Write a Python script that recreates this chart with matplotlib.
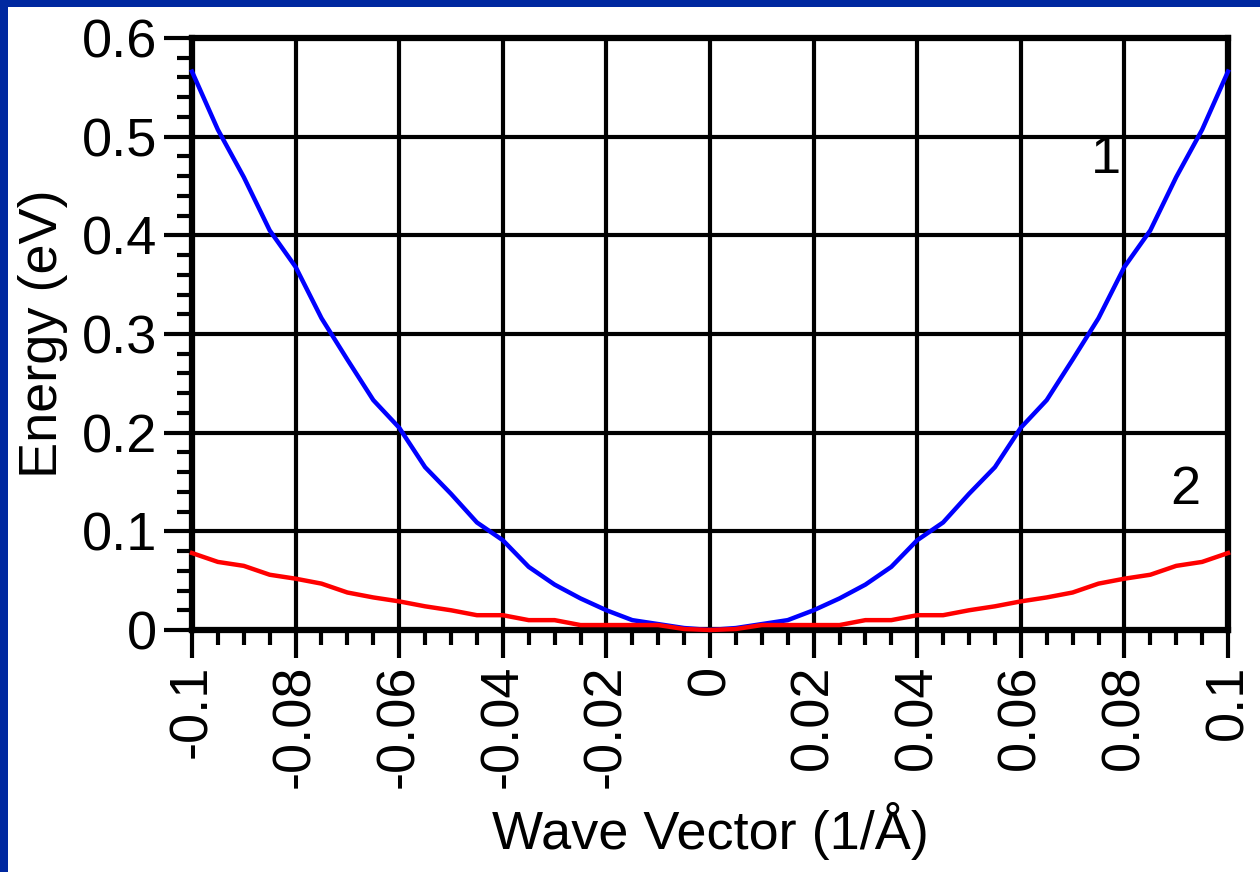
import matplotlib
matplotlib.use("Agg")
import matplotlib.pyplot as plt
from matplotlib.ticker import MultipleLocator
import matplotlib.patches as mpatches

k_left = [-0.1, -0.095, -0.09, -0.085, -0.08, -0.075, -0.07, -0.065, -0.06, -0.055,
          -0.05, -0.045, -0.04, -0.035, -0.03, -0.025, -0.02, -0.015, -0.01, -0.005, 0.0]
band1_left = [0.566, 0.507, 0.459, 0.405, 0.368, 0.316, 0.274, 0.233, 0.205, 0.165,
              0.138, 0.109, 0.091, 0.064, 0.046, 0.032, 0.020, 0.010, 0.006, 0.002, 0.0]
band2_left = [0.078, 0.069, 0.065, 0.056, 0.052, 0.047, 0.038, 0.033, 0.029, 0.024,
              0.020, 0.015, 0.015, 0.010, 0.010, 0.005, 0.005, 0.005, 0.005, 0.001, 0.0]

k = k_left + [-v for v in reversed(k_left[:-1])]
band1 = band1_left + list(reversed(band1_left[:-1]))
band2 = band2_left + list(reversed(band2_left[:-1]))

x_ticks = [-0.1, -0.08, -0.06, -0.04, -0.02, 0, 0.02, 0.04, 0.06, 0.08, 0.1]
x_ticklabels = ["-0.1", "-0.08", "-0.06", "-0.04", "-0.02", "0", "0.02", "0.04", "0.06", "0.08", "0.1"]
y_ticks = [0, 0.1, 0.2, 0.3, 0.4, 0.5, 0.6]
y_ticklabels = ["0", "0.1", "0.2", "0.3", "0.4", "0.5", "0.6"]

plt.rcParams['font.family'] = ['Liberation Sans', 'DejaVu Sans']

fig = plt.figure(figsize=(12.6, 8.72), dpi=100)
fig.patch.set_facecolor('white')
# blue frame on left and top
fig.add_artist(mpatches.Rectangle((0, 0), 8/1260, 1, transform=fig.transFigure,
                                  facecolor='#0028A0', edgecolor='none'))
fig.add_artist(mpatches.Rectangle((0, 1 - 7/872), 1, 7/872, transform=fig.transFigure,
                                  facecolor='#0028A0', edgecolor='none'))

ax = fig.add_axes([192/1260, 1 - 630/872, (1228-192)/1260, (630-38)/872])
ax.plot(k, band1, color='#0000FF', lw=3.2, zorder=3, clip_on=False)
ax.plot(k, band2, color='#FF0000', lw=3.2, zorder=3, clip_on=False)

ax.set_xlim(-0.1, 0.1)
ax.set_ylim(0, 0.6)
ax.set_xticks(x_ticks)
ax.set_xticklabels(x_ticklabels, rotation=90, va='top', ha='center')
ax.set_yticks(y_ticks)
ax.set_yticklabels(y_ticklabels)
ax.xaxis.set_minor_locator(MultipleLocator(0.005))
ax.yaxis.set_minor_locator(MultipleLocator(0.02))

ax.grid(True, which='major', color='black', lw=3)
ax.set_axisbelow(True)
ax.tick_params(which='major', direction='out', length=20, width=3, labelsize=39, pad=5, color='black')
ax.tick_params(which='minor', direction='out', length=11, width=3, color='black')
for s in ax.spines.values():
    s.set_linewidth(4.5)
    s.set_color('black')

ax.set_xlabel('Wave Vector (1/Å)', fontsize=39, labelpad=10)
ax.set_ylabel('Energy (eV)', fontsize=39, labelpad=10)

ax.text(0.0765, 0.477, '1', fontsize=39, ha='center', va='center')
ax.text(0.0918, 0.142, '2', fontsize=39, ha='center', va='center')

fig.savefig('out.png', dpi=100, facecolor='white')
